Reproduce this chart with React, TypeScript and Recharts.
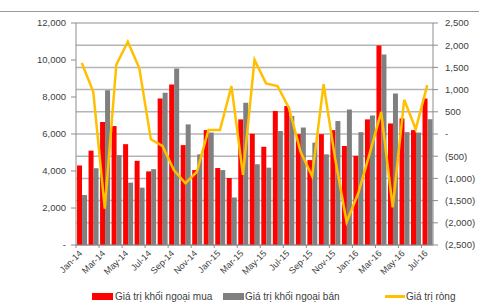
import React from 'react';
import { ComposedChart, Bar, Line, XAxis, YAxis, CartesianGrid, Legend } from 'recharts';

const months = ['Jan-14','Feb-14','Mar-14','Apr-14','May-14','Jun-14','Jul-14','Aug-14','Sep-14','Oct-14','Nov-14','Dec-14','Jan-15','Feb-15','Mar-15','Apr-15','May-15','Jun-15','Jul-15','Aug-15','Sep-15','Oct-15','Nov-15','Dec-15','Jan-16','Feb-16','Mar-16','Apr-16','May-16','Jun-16','Jul-16'];
const buyValues = [4300,5100,6650,6430,5450,4550,3980,7920,8680,5400,4050,6210,4160,3620,6790,6010,5310,7250,7520,5990,4590,5990,6210,5350,4820,6790,10780,6570,6840,6210,7920];
const sellValues = [2700,4150,8370,4860,3370,3100,4100,8230,9540,6520,4900,6080,4050,2570,7690,4370,4180,6160,6970,6350,5530,4900,6700,7330,6100,7000,10300,8190,6100,6080,6800];
const netValues = [1600,950,-1680,1560,2080,1480,-120,-270,-810,-1110,-850,90,90,1080,-920,1670,1140,1080,580,-400,-950,1120,-550,-1980,-1340,-440,500,-1650,770,110,1100];
const leftTicks = [0,2000,4000,6000,8000,10000,12000];
const rightTicks = [-2500,-2000,-1500,-1000,-500,0,500,1000,1500,2000,2500];
const seriesNames = ['Giá trị khối ngoại mua','Giá trị khối ngoại bán','Giá trị ròng'];

const data = months.map((m, i) => ({ month: m, buy: buyValues[i], sell: sellValues[i], net: netValues[i] }));

const FONT = '"Liberation Sans", Arial, sans-serif';
const TEXT = '#404040';
const AXIS = '#8c8c8c';

const fmtLeft = (v: number) => (v === 0 ? '-' : v.toLocaleString('en-US'));
const fmtRight = (v: number) => (v === 0 ? '-' : v < 0 ? `(${Math.abs(v).toLocaleString('en-US')})` : v.toLocaleString('en-US'));

const BAND = (433 - 76) / months.length;

const XTick = (props: any) => {
  const { x, y, payload, index } = props;
  if (index % 2 !== 0) return null;
  const bx = x - BAND / 2;
  return (
    <g>
      <line x1={bx} y1={y} x2={bx} y2={y + 3} stroke={AXIS} strokeWidth={1} />
      <text x={x + 1} y={y + 9} textAnchor="end" fontSize={9} fontFamily={FONT} fill={TEXT}
        transform={`rotate(-45, ${x + 1}, ${y + 9})`}>{payload.value}</text>
    </g>
  );
};

const LegendContent = () => (
  <div style={{ position: 'relative', height: 21, fontFamily: FONT, fontSize: 10, color: TEXT }}>
    <div style={{ position: 'absolute', left: 92, top: 8, width: 21, height: 7, background: '#ff0000' }} />
    <div style={{ position: 'absolute', left: 115, top: 5, whiteSpace: 'nowrap', lineHeight: '13px' }}>{seriesNames[0]}</div>
    <div style={{ position: 'absolute', left: 223, top: 8, width: 21, height: 7, background: '#808080' }} />
    <div style={{ position: 'absolute', left: 245, top: 5, whiteSpace: 'nowrap', lineHeight: '13px' }}>{seriesNames[1]}</div>
    <div style={{ position: 'absolute', left: 385, top: 10, width: 20, height: 2.5, background: '#ffc000' }} />
    <div style={{ position: 'absolute', left: 406, top: 5, whiteSpace: 'nowrap', lineHeight: '13px' }}>{seriesNames[2]}</div>
  </div>
);

export default function App() {
  return (
    <div style={{ position: 'absolute', left: 0, top: 0, width: 479, height: 306, background: '#fff' }}>
      <div style={{ position: 'absolute', left: 0, top: 11, width: 479, height: 1, background: '#999' }} />
      <ComposedChart width={479} height={306} data={data}
        margin={{ top: 23, right: 0, left: 0, bottom: 0 }}
        barCategoryGap="9%" barGap={0}>
        <CartesianGrid yAxisId="right" vertical={false} stroke="#b4b4b4" strokeWidth={1.5} />
        <XAxis dataKey="month" xAxisId={0} interval={0} height={40} tickLine={false} tickSize={0} tickMargin={0}
          tick={<XTick />} axisLine={{ stroke: AXIS }} />
        <YAxis yAxisId="left" orientation="left" width={76} domain={[0, 12000]} ticks={leftTicks}
          tickFormatter={fmtLeft} tickSize={5} tickMargin={5} axisLine={{ stroke: AXIS }} tickLine={{ stroke: AXIS }}
          tick={{ fontSize: 9.5, fontFamily: FONT, fill: TEXT }} interval={0} />
        <YAxis yAxisId="right" orientation="right" width={46} domain={[-2500, 2500]} ticks={rightTicks}
          tickFormatter={fmtRight} tickSize={5} tickMargin={7} axisLine={{ stroke: AXIS }} tickLine={{ stroke: AXIS }}
          tick={{ fontSize: 9.5, fontFamily: FONT, fill: TEXT, textAnchor: 'start' }} interval={0} />
        <Bar yAxisId="left" dataKey="buy" name={seriesNames[0]} fill="#ff0000" isAnimationActive={false} />
        <Bar yAxisId="left" dataKey="sell" name={seriesNames[1]} fill="#808080" isAnimationActive={false} />
        <Line yAxisId="right" dataKey="net" name={seriesNames[2]} stroke="#ffc000" strokeWidth={2.5} dot={false}
          type="linear" isAnimationActive={false} />
        <Legend verticalAlign="bottom" height={21} content={<LegendContent />} />
      </ComposedChart>
    </div>
  );
}
